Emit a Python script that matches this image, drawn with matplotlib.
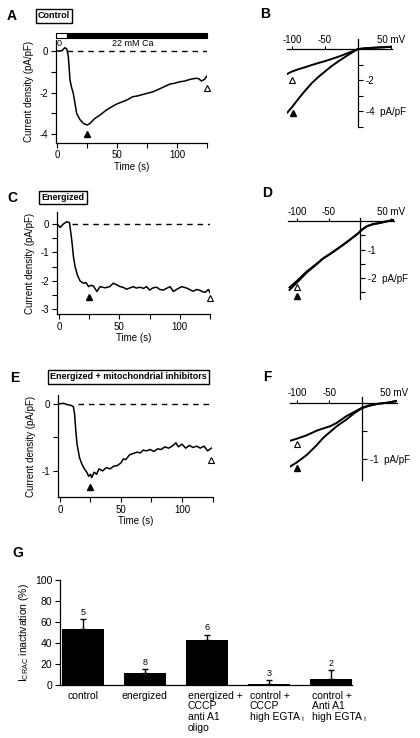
import matplotlib
matplotlib.use('Agg')
import matplotlib.pyplot as plt
from matplotlib.patches import Rectangle
from matplotlib.ticker import FuncFormatter
import numpy as np

plt.rcParams['font.family'] = ['Liberation Sans', 'DejaVu Sans']
plt.rcParams['mathtext.fontset'] = 'custom'
plt.rcParams['mathtext.rm'] = 'Liberation Sans'
plt.rcParams['mathtext.it'] = 'Liberation Sans:italic'
plt.rcParams['axes.unicode_minus'] = False
plt.rcParams['font.size'] = 7

W, H = 420, 738

# panel A: control, current density vs time
ctrl_t = [-1, 2, 4, 5, 6.5, 8, 9.3, 10.7, 12, 13.4, 14.8, 16.2, 19, 21.8, 25, 27.3, 31.5, 35.7, 41, 45,
          49.6, 54, 58, 63, 67, 72, 76, 80, 84, 88, 94, 98, 102, 106, 111, 116, 118, 120.4, 123, 125]
ctrl_i = [0, 0.0, 0.02, 0.08, 0.16, 0.1, -0.27, -1.4, -1.75, -2.03, -2.5, -3.0, -3.3, -3.48, -3.56, -3.48, -3.24, -3.08, -2.84, -2.7,
          -2.55, -2.45, -2.36, -2.2, -2.16, -2.08, -2.02, -1.96, -1.86, -1.75, -1.59, -1.55, -1.48, -1.45, -1.36, -1.31, -1.33, -1.44, -1.36, -1.2]

# panel C: energized
en_t = [-1.6, 1, 3.7, 6.5, 8.7, 10.6, 12, 13.4, 15.3, 17.5, 20.3, 22.5, 24.5, 26.5, 28.6, 31.4, 34, 38.2, 42, 45,
        48, 50.6, 53, 56, 59, 61.6, 64, 67, 70, 72.6, 75, 78, 80.9, 83.5, 86.4, 89, 92, 94.7, 98, 101.6,
        105.7, 108, 111, 114, 116.8, 119, 121, 123.6, 125]
en_i = [0, -0.12, 0, 0.08, 0.05, -0.56, -1.15, -1.5, -1.8, -2.0, -2.08, -2.06, -2.2, -2.15, -2.18, -2.37, -2.2, -2.24, -2.2, -2.08,
        -2.14, -2.2, -2.22, -2.29, -2.24, -2.2, -2.25, -2.22, -2.26, -2.2, -2.32, -2.24, -2.22, -2.3, -2.32, -2.26, -2.2, -2.37, -2.28, -2.2,
        -2.25, -2.3, -2.36, -2.3, -2.33, -2.38, -2.4, -2.3, -2.41]

# panel E: energized + mitochondrial inhibitors
inh_t = [-1.6, 3, 6, 9, 11, 12, 13, 14, 16, 18, 20, 22, 23.5, 25, 26, 28, 30, 32, 35, 38,
         41, 44, 47, 50, 52, 54, 57, 60, 63, 66, 68, 71, 74, 77, 80, 83, 86, 89, 92, 95,
         97, 100, 103, 106, 109, 112, 115, 118, 121, 124]
inh_i = [0.0, 0.01, -0.01, -0.02, -0.04, -0.15, -0.4, -0.6, -0.8, -0.9, -0.97, -1.02, -1.08, -1.05, -1.1, -1.02, -1.05, -0.97, -1.0, -0.95,
         -0.97, -0.93, -0.92, -0.88, -0.82, -0.83, -0.76, -0.74, -0.72, -0.73, -0.69, -0.7, -0.68, -0.71, -0.67, -0.68, -0.64, -0.66, -0.63, -0.58,
         -0.64, -0.6, -0.66, -0.62, -0.65, -0.63, -0.66, -0.63, -0.7, -0.66]

# I-V curves (mV, pA/pF), peak (filled) and late (open)
b_v = [-107, -100, -90, -80, -70, -60, -50, -40, -30, -20, -10, 0, 10, 20, 30, 40, 50]
b_late = [-1.6, -1.45, -1.3, -1.17, -1.03, -0.9, -0.78, -0.64, -0.5, -0.34, -0.17, 0.0, 0.05, 0.08, 0.1, 0.12, 0.15]
b_peak = [-4.1, -3.75, -3.2, -2.68, -2.2, -1.8, -1.45, -1.1, -0.8, -0.52, -0.25, 0.0, 0.04, 0.07, 0.1, 0.12, 0.15]

d_v = [-112, -100, -85, -70, -58, -48, -35, -20, -10, -3, 3, 11, 20, 32, 42, 53]
d_late = [-2.33, -2.1, -1.78, -1.52, -1.3, -1.16, -0.96, -0.72, -0.55, -0.43, -0.3, -0.18, -0.11, -0.06, -0.01, 0.04]
d_peak = [-2.42, -2.16, -1.82, -1.54, -1.31, -1.17, -0.97, -0.73, -0.56, -0.44, -0.31, -0.19, -0.12, -0.07, -0.02, 0.03]

f_v = [-111, -100, -85, -70, -60, -49, -39, -24, -11, 0, 10, 25, 40, 53]
f_late = [-0.68, -0.64, -0.58, -0.5, -0.46, -0.42, -0.36, -0.24, -0.16, -0.09, -0.05, -0.02, 0.0, 0.03]
f_peak = [-1.14, -1.06, -0.93, -0.76, -0.63, -0.52, -0.42, -0.3, -0.18, -0.1, -0.06, -0.02, 0.0, 0.03]

# panel G: inactivation summary
conditions = ['control', 'energized', 'energized +\nCCCP\nanti A1\noligo',
              'control +\nCCCP\nhigh EGTA \u1d62', 'control +\nAnti A1\nhigh EGTA \u1d62']
inact = [53, 11, 43, 1, 6]
inact_err = [10, 4, 5, 4, 8]
n_cells = ['5', '8', '6', '3', '2']

fig = plt.figure(figsize=(4.2, 7.38), dpi=100)


def axes_px(left, top, right, bottom):
    return fig.add_axes([left / W, 1 - bottom / H, (right - left) / W, (bottom - top) / H])


def fig_text(x, y, s, **kw):
    return fig.text(x / W, 1 - y / H, s, ha='center', va='center', **kw)


def time_panel(box, t, cur, ylim, major_y, minor_y, dash_from, peak, late, xleft):
    ax = axes_px(*box)
    ax.plot(t, cur, color='black', lw=1.1)
    ax.plot([dash_from, 125], [0, 0], color='black', lw=1.0, ls=(0, (4, 3.5)))
    ax.plot(*peak, marker='^', ms=5, color='black', clip_on=False)
    ax.plot(*late, marker='^', ms=5, mfc='white', mec='black', mew=0.8, clip_on=False)
    ax.set_xlim(xleft, 125)
    ax.set_ylim(*ylim)
    for s in ('top', 'right'):
        ax.spines[s].set_visible(False)
    for s in ('left', 'bottom'):
        ax.spines[s].set_linewidth(0.9)
    ax.set_xticks([0, 50, 100])
    ax.set_xticks([25, 75, 125], minor=True)
    ax.set_yticks(major_y)
    ax.set_yticks(minor_y, minor=True)
    ax.tick_params(which='both', length=3.5, width=0.8, labelsize=7, pad=2)
    ax.set_xlabel('Time (s)', fontsize=7, labelpad=1)
    ax.set_ylabel('Current density (pA/pF)', fontsize=7)
    return ax


def iv_panel(box, xlim, ylim, v, curves, yticks, ylabeled, late_pt, peak_pt):
    ax = axes_px(*box)
    for c in curves:
        ax.plot(v, c, color='black', lw=1.4)
    ax.plot(*late_pt, marker='^', ms=5, mfc='white', mec='black', mew=0.8, clip_on=False)
    ax.plot(*peak_pt, marker='^', ms=5, color='black', clip_on=False)
    ax.set_xlim(*xlim)
    ax.set_ylim(*ylim)
    ax.spines['left'].set_visible(False)
    ax.spines['bottom'].set_visible(False)
    ax.spines['top'].set_position(('data', 0))
    ax.spines['right'].set_position(('data', 0))
    ax.spines['top'].set_linewidth(0.9)
    ax.spines['right'].set_linewidth(0.9)
    ax.xaxis.set_ticks_position('top')
    ax.yaxis.set_ticks_position('right')
    ax.set_xticks([-100, -50, 50])
    ax.xaxis.set_major_formatter(FuncFormatter(lambda x, p: '50 mV' if x == 50 else '%d' % x))
    ax.set_yticks(yticks)
    lowest = min(ylabeled)

    def yfmt(y, p):
        y = round(y, 2)
        if y not in ylabeled:
            return ''
        return '%d  pA/pF' % y if y == lowest else '%d' % y
    ax.yaxis.set_major_formatter(FuncFormatter(yfmt))
    ax.tick_params(axis='x', length=2, width=0.8, labelsize=7, pad=1)
    ax.tick_params(axis='y', length=3.5, width=0.8, labelsize=7, pad=2)
    return ax


# A
axA = time_panel((56, 39.6, 207, 142.5), ctrl_t, ctrl_i, (-4.4, 0.55), [0, -2, -4], [-1, -3],
                 8, (25, -4.0), (125, -1.8), -1)
axA.add_patch(Rectangle((-1, 0.64), 9, 0.21, facecolor='white', edgecolor='black', lw=0.8, clip_on=False))
axA.add_patch(Rectangle((8, 0.64), 117, 0.21, facecolor='black', edgecolor='black', lw=0.8, clip_on=False))
axA.text(1.5, 0.34, '0', fontsize=6.5, ha='center', va='center')
axA.text(63, 0.34, '22 mM Ca', fontsize=6.5, ha='center', va='center')

# C
time_panel((57, 212, 210, 314), en_t, en_i, (-3.16, 0.42), [0, -1, -2, -3], [-0.5, -1.5, -2.5],
           10.5, (25, -2.56), (125, -2.6), -1.6)

# E
time_panel((58, 395.3, 212.5, 497), inh_t, inh_i, (-1.39, 0.13), [0, -1], [-0.5],
           15, (25, -1.24), (124, -0.84), -1.6)

# B, D, F
iv_panel((286.7, 39, 392.3, 126.5), (-108, 52), (-5.0, 0.65), b_v, [b_late, b_peak],
         [-1, -2, -3, -4, -5], [-2, -4], (-100, -2.0), (-98, -4.13))
iv_panel((288.2, 217.6, 394, 298.5), (-114, 54), (-2.72, 0.12), d_v, [d_late, d_peak],
         [-0.5, -1, -1.5, -2, -2.5], [-1, -2], (-100, -2.3), (-100, -2.62))
iv_panel((289.8, 397, 396.5, 480.3), (-111, 53), (-1.38, 0.1), f_v, [f_late, f_peak],
         [-0.5, -1], [-1], (-100, -0.74), (-100, -1.17))

# G
axG = axes_px(60, 580, 352, 685)
pos = np.arange(len(inact))
width = 0.68
axG.bar(pos, inact, width=width, color='black',
        yerr=[np.zeros(len(inact)), inact_err],
        error_kw=dict(ecolor='black', elinewidth=1, capsize=2, capthick=1))
for p, m, e, n in zip(pos, inact, inact_err, n_cells):
    axG.text(p, m + e + 2, n, ha='center', va='bottom', fontsize=6.5)
for p, lab in zip(pos, conditions):
    if '\n' in lab:
        axG.annotate(lab, xy=(p - width / 2, 0), xycoords=('data', 'axes fraction'),
                     xytext=(1.5, -4), textcoords='offset points', ha='left', va='top',
                     fontsize=7.5, linespacing=1.1)
    else:
        axG.annotate(lab, xy=(p, 0), xycoords=('data', 'axes fraction'),
                     xytext=(0, -4), textcoords='offset points', ha='center', va='top',
                     fontsize=7.5)
axG.set_xlim(-0.37, 4.34)
axG.set_ylim(0, 100)
axG.spines['top'].set_visible(False)
axG.spines['right'].set_visible(False)
axG.spines['left'].set_linewidth(0.9)
axG.spines['bottom'].set_linewidth(0.9)
axG.set_xticks([])
axG.set_yticks(np.arange(0, 101, 20))
axG.tick_params(axis='y', length=3.5, width=0.8, labelsize=7.5, pad=2)
axG.set_ylabel('I$_{\\rm CRAC}$ inactivation (%)', fontsize=7.5)
axG.yaxis.set_label_coords(-0.1, 0.5)

# panel letters and condition boxes
for letter, x, y in [('A', 12, 16), ('B', 265, 14), ('C', 12, 198), ('D', 267, 193),
                     ('E', 15, 378), ('F', 267, 377), ('G', 18, 553)]:
    fig_text(x, y, letter, fontsize=10, fontweight='bold')
box = dict(boxstyle='square,pad=0.25', fc='white', ec='black', lw=1)
fig_text(54, 16, 'Control', fontsize=6.5, fontweight='bold', bbox=box)
fig_text(63, 197.5, 'Energized', fontsize=6.5, fontweight='bold', bbox=box)
fig_text(128.5, 377, 'Energized + mitochondrial inhibitors', fontsize=6.5, fontweight='bold', bbox=box)

fig.savefig('out.png', dpi=100)
